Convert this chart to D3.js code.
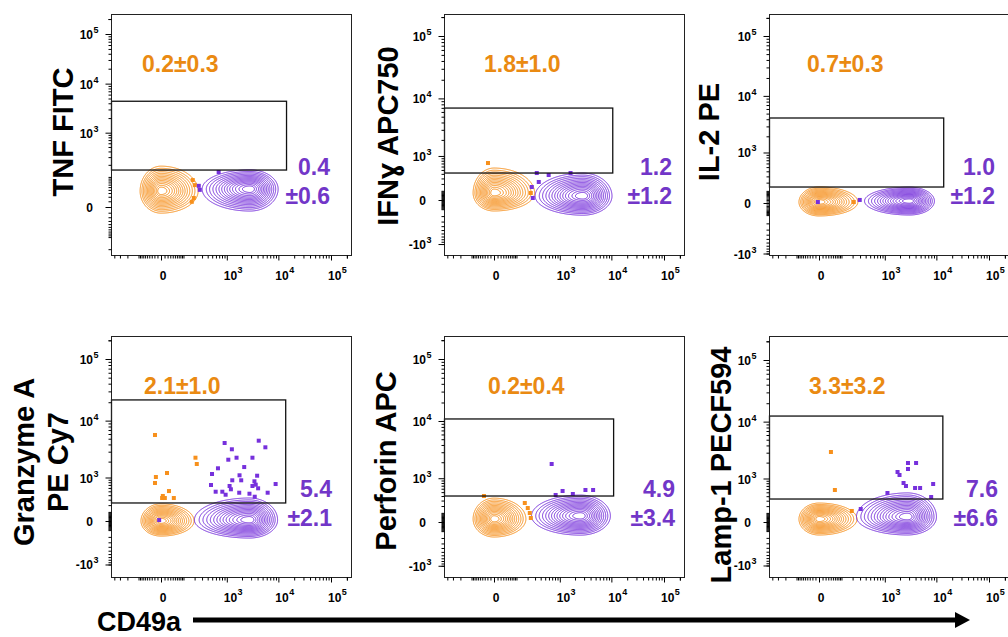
<!DOCTYPE html>
<html>
<head>
<meta charset="utf-8">
<script src="https://cdn.jsdelivr.net/npm/d3@7"></script>
<style>
  body { margin: 0; background: #fff; }
  svg { display: block; font-family: "Liberation Sans", Arial, sans-serif; }
</style>
</head>
<body>
<svg id="chart" width="1008" height="637"></svg>
<script>
// ---- data ----
const titles = [["TNF FITC"], ["IFNɣ APC750"], ["IL-2 PE"], ["Granzyme A", "PE Cy7"], ["Perforin APC"], ["Lamp-1 PECF594"]];
const orangeStats = ["0.2±0.3", "1.8±1.0", "0.7±0.3", "2.1±1.0", "0.2±0.4", "3.3±3.2"];
const purpleStats = [["0.4", "±0.6"], ["1.2", "±1.2"], ["1.0", "±1.2"], ["5.4", "±2.1"], ["4.9", "±3.4"], ["7.6", "±6.6"]];
const xAxisLabel = "CD49a";

const xTicks = [0, 1e3, 1e4, 1e5];
const yTicks = [-1e3, 0, 1e3, 1e4, 1e5];

// gate: upper CD49a bound and [low, high] cytokine bounds
const gateX = [14000, 10400, 13500, 13500, 10800, 13000];
const gateY = [[150, 4400], [420, 6950], [143, 4200], [237, 21800], [400, 10800], [335, 12350]];

// contour populations: centre (data units) and spread to the left/right/up/down
const orangePop = [
  {x: 0, y: 36, l: 7.2, r: 12.8, u: 8.6, d: 7.6},
  {x: 0, y: 73, l: 7.2, r: 14, u: 8.6, d: 6.2},
  {x: 0, y: 6.5, l: 6.9, r: 13.4, u: 5.2, d: 4.8},
  {x: 0, y: 0, l: 6.9, r: 11.4, u: 5.9, d: 5.2},
  {x: 0, y: 29, l: 7.2, r: 11, u: 7.2, d: 6.2},
  {x: 0, y: 29, l: 6.9, r: 13.1, u: 5.5, d: 5.5}
];
const purplePop = [
  {x: 2855, y: 43, l: 16.5, r: 9.7, u: 6.6, d: 7.6},
  {x: 2855, y: 39, l: 16.5, r: 10, u: 7.9, d: 6.6},
  {x: 3050, y: 13, l: 15.5, r: 8.6, u: 4.8, d: 4.8},
  {x: 2790, y: 9, l: 19, r: 9.7, u: 7.6, d: 6.2},
  {x: 2556, y: 62, l: 16.9, r: 10.3, u: 7.2, d: 6.6},
  {x: 2790, y: 51, l: 17.6, r: 10, u: 8.3, d: 6.2}
];

// single events outside the contours [CD49a, marker]
const orangeDots = [
  [[180, 82], [202, 58], [170, 9], [191, 17]],
  [[-18, 716], [239, 73]],
  [[214, 6.5]],
  [[-18, 5775], [210, 2350], [226, 1810], [18, 1226], [-15, 1023], [-18, 770], [25, 507], [5, 381], [3, 335], [11, 335], [45, 335]],
  [[-33, 400], [170, 253], [202, 168], [226, 98], [239, 40]],
  [[41, 3083], [60, 567], [191, 126]]
];
const purpleDots = [
  [[266, 40], [252, 55], [683, 134]],
  [[328, 420], [592, 373], [363, 233], [252, 152], [266, 19], [1633, 420]],
  [[295, 21], [-3, 6.5]],
  [[904, 4230], [4212, 4630], [5646, 3570], [1262, 3300], [1561, 2350], [1072, 2165], [3186, 2350], [2206, 1590],
   [661, 1507], [496, 1173], [1788, 1106], [3924, 1086], [1286, 877], [1928, 877], [3481, 836], [3686, 708],
   [472, 697], [1137, 663], [3186, 663], [8866, 732], [1207, 558], [4099, 588], [592, 489], [812, 489],
   [1763, 462], [2790, 436], [6247, 462], [947, 411], [3528, 364], [-5, 9]],
  [[683, 1860], [1137, 532], [824, 425], [1812, 450], [3186, 561], [4477, 561]],
  [[1788, 1340], [1955, 1173], [2855, 1968], [4093, 1968], [2855, 1526], [2342, 808], [2610, 697], [3912, 630],
   [4890, 630], [8688, 770], [1130, 481], [7957, 380], [311, 154]]
];

// ---- layout ----
const orange = "#f7901c", purple = "#7630dc";
const orangeText = "#ea8a12", purpleText = "#7236c8";
const W = 240, H = 241;
const lefts = [111, 444, 769], tops = [14, 336];
const yConst = [33, 250, 170, 250, 250, 250];
const yZero = [193, 186, 189, 185, 186, 186];
const yE5 = [20, 22, 22, 23, 23, 24];
const titleBase = [[73], [398], [719], [34, 68], [396], [731]];
const titleMid = [132, 136, 132, 462, 461, 465];
const orangeTextX = [31, 40, 38, 33, 44, 40];
const purpleTextX = [219, 228, 226, 221, 231, 229];
// contour levels (fraction of peak density)
const levels = [0.015, 0.03, 0.05, 0.08, 0.12, 0.17, 0.23, 0.3, 0.38, 0.47, 0.57, 0.68, 0.8, 0.9];

const svg = d3.select("#chart");

const minorVals = [];
[10, 100, 1000, 10000, 100000].forEach(function (d) {
  for (let k = 1; k < 10; k++) {
    if (k === 1 && d >= 1000) continue;
    minorVals.push(k * d, -k * d);
  }
});
minorVals.push(-1000, 2e5);

function drawPop(g, pop, xs, ys, left, top, color) {
  const cx = xs(pop.x) - left, cy = ys(pop.y) - top;
  const vals = new Float64Array(W * H);
  for (let j = 0; j < H; j++) {
    for (let i = 0; i < W; i++) {
      const ddx = i + 0.5 - cx, ddy = j + 0.5 - cy;
      const dx = ddx / (ddx < 0 ? pop.l : pop.r);
      const dy = ddy / (ddy < 0 ? pop.u : pop.d);
      vals[j * W + i] = Math.exp(-0.5 * (dx * dx + dy * dy));
    }
  }
  const cs = d3.contours().size([W, H]).thresholds(levels)(vals);
  g.append("g")
    .attr("transform", `translate(${left},${top})`)
    .selectAll("path")
    .data(cs)
    .join("path")
    .attr("d", d3.geoPath())
    .attr("fill", "none")
    .attr("stroke", color)
    .attr("stroke-width", 1);
}

function powLabel(g, v, x, y, anchor) {
  if (v === 0) {
    g.append("text").attr("x", x).attr("y", y).attr("text-anchor", anchor === "end" ? "end" : "middle")
      .attr("font-size", 12).attr("font-weight", "bold").text("0");
    return;
  }
  const exp = Math.round(Math.log10(Math.abs(v)));
  const base = (v < 0 ? "-" : "") + "10";
  if (anchor === "end") {
    g.append("text").attr("x", x).attr("y", y).attr("text-anchor", "end")
      .attr("font-size", 12).attr("font-weight", "bold").text(base);
    g.append("text").attr("x", x + 0.5).attr("y", y - 6).attr("text-anchor", "start")
      .attr("font-size", 9).attr("font-weight", "bold").text(exp);
  } else {
    g.append("text").attr("x", x).attr("y", y).attr("text-anchor", "start")
      .attr("font-size", 12).attr("font-weight", "bold").text(base);
    g.append("text").attr("x", x + 13.8).attr("y", y - 7).attr("text-anchor", "start")
      .attr("font-size", 9).attr("font-weight", "bold").text(exp);
  }
}

titles.forEach(function (title, i) {
  const left = lefts[i % 3], top = tops[Math.floor(i / 3)];
  const x = d3.scaleSymlog().constant(60).domain([0, 1e5]).range([left + 50, left + 220]);
  const y = d3.scaleSymlog().constant(yConst[i]).domain([0, 1e5]).range([top + yZero[i], top + yE5[i]]);
  const g = svg.append("g");

  // contours
  drawPop(g, orangePop[i], x, y, left, top, orange);
  drawPop(g, purplePop[i], x, y, left, top, purple);

  // single events
  g.append("g").selectAll("rect").data(orangeDots[i]).join("rect")
    .attr("x", d => x(d[0]) - 2).attr("y", d => y(d[1]) - 2)
    .attr("width", 4).attr("height", 4).attr("fill", orange);
  g.append("g").selectAll("rect").data(purpleDots[i]).join("rect")
    .attr("x", d => x(d[0]) - 2).attr("y", d => y(d[1]) - 2)
    .attr("width", 4).attr("height", 4).attr("fill", purple);

  // gate
  g.append("rect")
    .attr("x", left + 0.5).attr("y", y(gateY[i][1]))
    .attr("width", x(gateX[i]) - left).attr("height", y(gateY[i][0]) - y(gateY[i][1]))
    .attr("fill", "none").attr("stroke", "#111").attr("stroke-width", 1.3);

  // frame
  g.append("rect").attr("x", left + 0.5).attr("y", top + 0.5).attr("width", W).attr("height", H)
    .attr("fill", "none").attr("stroke", "#222").attr("stroke-width", 1);

  // axes: minor + major ticks
  const inX = v => x(v) >= left && x(v) <= left + W;
  const inY = v => y(v) >= top && y(v) <= top + H;
  const xa = g.append("g").attr("transform", `translate(0,${top + H + 0.5})`);
  xa.call(d3.axisBottom(x).tickValues(minorVals.filter(inX)).tickSize(3).tickFormat(() => ""));
  xa.append("g").call(d3.axisBottom(x).tickValues(xTicks.filter(inX)).tickSize(5).tickFormat(() => ""));
  xa.selectAll(".domain").remove();
  xa.selectAll("line").attr("stroke", "#000");
  const ya = g.append("g").attr("transform", `translate(${left + 0.5},0)`);
  ya.call(d3.axisLeft(y).tickValues(minorVals.filter(inY)).tickSize(3).tickFormat(() => ""));
  ya.append("g").call(d3.axisLeft(y).tickValues(yTicks.filter(inY)).tickSize(6).tickFormat(() => ""));
  ya.selectAll(".domain").remove();
  ya.selectAll("line").attr("stroke", "#000");

  // tick labels
  xTicks.filter(inX).forEach(function (v) {
    powLabel(g, v, v === 0 ? x(v) + 2 : x(v) - 3, top + H + 25, "start");
  });
  yTicks.filter(inY).forEach(function (v) {
    powLabel(g, v, left - 18, y(v) + 5, "end");
  });

  // statistics
  g.append("text").attr("x", left + orangeTextX[i]).attr("y", top + 58)
    .attr("font-size", 23).attr("font-weight", "bold").attr("fill", orangeText).text(orangeStats[i]);
  purpleStats[i].forEach(function (s, k) {
    g.append("text").attr("x", left + purpleTextX[i]).attr("y", top + 161 + k * 29)
      .attr("text-anchor", "end").attr("font-size", 23).attr("font-weight", "bold")
      .attr("fill", purpleText).text(s);
  });

  // y title
  title.forEach(function (t, k) {
    svg.append("text")
      .attr("transform", `translate(${titleBase[i][k]},${titleMid[i]}) rotate(-90)`)
      .attr("text-anchor", "middle").attr("font-size", 29).attr("font-weight", "bold")
      .text(t);
  });
});

// shared x title with arrow
svg.append("text").attr("x", 97).attr("y", 631).attr("font-size", 27).attr("font-weight", "bold").text(xAxisLabel);
svg.append("line").attr("x1", 193).attr("x2", 957).attr("y1", 620).attr("y2", 620)
  .attr("stroke", "#000").attr("stroke-width", 5);
svg.append("path").attr("d", "M955,612L970,620L955,628Z").attr("fill", "#000");
</script>
</body>
</html>
